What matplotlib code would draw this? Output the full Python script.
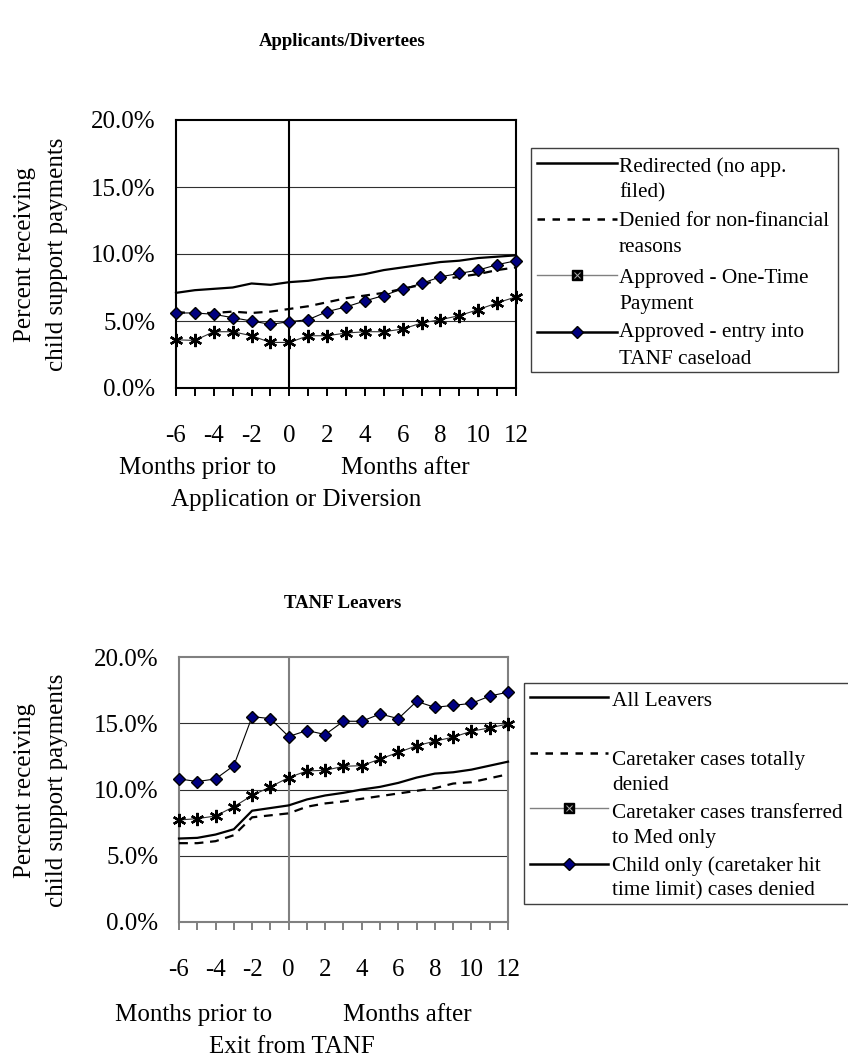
import matplotlib
matplotlib.use("Agg")
import matplotlib.pyplot as plt
from matplotlib.patches import Rectangle
from matplotlib.lines import Line2D

plt.rcParams['font.family'] = ['Liberation Serif', 'DejaVu Serif']

# months relative to application / exit
months = list(range(-6, 13))
month_labels = [str(m) if m % 2 == 0 else '' for m in months]
yticks = [0, 5, 10, 15, 20]

# Applicants/Divertees (percent)
redirected = [7.1, 7.3, 7.4, 7.5, 7.8, 7.7, 7.9, 8.0, 8.2, 8.3, 8.5, 8.8, 9.0, 9.2, 9.4, 9.5, 9.7, 9.8, 9.9]
denied_nonfin = [5.65, 5.6, 5.6, 5.7, 5.6, 5.7, 5.9, 6.1, 6.4, 6.7, 6.9, 7.1, 7.4, 7.7, 8.1, 8.3, 8.5, 8.8, 9.0]
approved_onetime = [3.6, 3.55, 4.2, 4.2, 3.9, 3.4, 3.4, 3.9, 3.9, 4.1, 4.2, 4.2, 4.4, 4.85, 5.1, 5.4, 5.85, 6.35, 6.8]
approved_tanf = [5.6, 5.6, 5.5, 5.25, 5.0, 4.75, 4.95, 5.1, 5.7, 6.05, 6.5, 6.9, 7.4, 7.8, 8.3, 8.55, 8.8, 9.2, 9.5]

# TANF Leavers (percent)
all_leavers = [6.3, 6.35, 6.6, 7.0, 8.4, 8.6, 8.8, 9.25, 9.55, 9.75, 10.0, 10.2, 10.5, 10.9, 11.2, 11.3, 11.5, 11.8, 12.1]
totally_denied = [5.95, 5.95, 6.1, 6.55, 7.9, 8.05, 8.2, 8.7, 8.95, 9.1, 9.3, 9.5, 9.7, 9.9, 10.1, 10.45, 10.55, 10.85, 11.15]
med_only = [7.7, 7.8, 8.0, 8.7, 9.55, 10.2, 10.9, 11.4, 11.45, 11.75, 11.8, 12.3, 12.8, 13.3, 13.65, 13.95, 14.4, 14.65, 14.95]
child_only = [10.8, 10.6, 10.8, 11.8, 15.5, 15.35, 14.0, 14.45, 14.15, 15.15, 15.15, 15.7, 15.35, 16.65, 16.2, 16.35, 16.5, 17.05, 17.35]

W, H = 848, 1063
NAVY = '#000080'
STAR = (6, 2, 0)
AX_FS = 18
LEG_FS = 15.3


def box(left, top, right, bottom):
    return [left / W, 1 - bottom / H, (right - left) / W, (bottom - top) / H]


def setup_axes(ax, frame_color, grid_color):
    ax.set_xlim(-6, 12)
    ax.set_ylim(0, 20)
    ax.set_xticks(months)
    ax.set_xticklabels(month_labels, fontsize=AX_FS)
    ax.set_yticks(yticks)
    ax.set_yticklabels(['%.1f%%' % v for v in yticks], fontsize=AX_FS)
    ax.tick_params(axis='x', direction='out', length=6, width=1.4, color=frame_color, pad=21)
    ax.tick_params(axis='y', length=0, pad=15)
    for s in ax.spines.values():
        s.set_color(frame_color)
        s.set_linewidth(1.5)
    for v in [5, 10, 15]:
        ax.axhline(v, color=grid_color, lw=0.8, zorder=1)
    ax.axvline(0, color=frame_color, lw=1.5, zorder=1)


fig = plt.figure(figsize=(W / 100, H / 100), dpi=100)

# ---- top chart
ax1 = fig.add_axes(box(176, 120, 516, 388))
setup_axes(ax1, 'black', '#303030')
ax1.plot(months, redirected, color='black', lw=1.6, zorder=3, clip_on=False)
ax1.plot(months, denied_nonfin, color='black', lw=1.6, ls=(0, (4, 3)), zorder=3, clip_on=False)
ax1.plot(months, approved_onetime, color='#303030', lw=0.8, marker=STAR, ms=9.5, mew=1.7,
         mec='black', zorder=4, clip_on=False)
ax1.plot(months, approved_tanf, color='black', lw=0.8, marker='D', ms=6.5, mfc=NAVY,
         mec='black', mew=1.0, zorder=5, clip_on=False)

# ---- bottom chart
ax2 = fig.add_axes(box(179, 657, 508, 922))
setup_axes(ax2, '#808080', '#303030')
ax2.plot(months, all_leavers, color='black', lw=1.6, zorder=3, clip_on=False)
ax2.plot(months, totally_denied, color='black', lw=1.6, ls=(0, (4, 3)), zorder=3, clip_on=False)
ax2.plot(months, med_only, color='#303030', lw=0.8, marker=STAR, ms=9.5, mew=1.7,
         mec='black', zorder=4, clip_on=False)
ax2.plot(months, child_only, color='black', lw=0.8, marker='D', ms=6.5, mfc=NAVY,
         mec='black', mew=1.0, zorder=5, clip_on=False)

# ---- overlay in pixel coordinates for titles, labels and legends
ov = fig.add_axes([0, 0, 1, 1], facecolor='none')
ov.set_xlim(0, W)
ov.set_ylim(H, 0)
ov.axis('off')

ov.text(342, 42, 'Applicants/Divertees', ha='center', va='center', fontsize=13.5, fontweight='bold')
ov.text(343, 604, 'TANF Leavers', ha='center', va='center', fontsize=13.5, fontweight='bold')

for yc in [254, 790]:
    ov.text(25, yc, 'Percent receiving', rotation=90, ha='center', va='center', fontsize=AX_FS)
    ov.text(57, yc, 'child support payments', rotation=90, ha='center', va='center', fontsize=AX_FS)

ov.text(198, 468, 'Months prior to', ha='center', va='center', fontsize=AX_FS)
ov.text(405, 468, 'Months after', ha='center', va='center', fontsize=AX_FS)
ov.text(296, 500, 'Application or Diversion', ha='center', va='center', fontsize=AX_FS)

ov.text(194, 1015, 'Months prior to', ha='center', va='center', fontsize=AX_FS)
ov.text(407, 1015, 'Months after', ha='center', va='center', fontsize=AX_FS)
ov.text(292, 1047, 'Exit from TANF', ha='center', va='center', fontsize=AX_FS)


def legend(x0, x1, top, bottom, hx0, hx1, tx, entries):
    ov.add_patch(Rectangle((x0, top), x1 - x0, bottom - top, fill=False, ec='#404040', lw=1.0,
                           clip_on=False))
    for kind, hy, lines in entries:
        xs = [hx0, hx1]
        mid = (hx0 + hx1) / 2
        if kind == 'solid':
            ov.add_line(Line2D(xs, [hy, hy], color='black', lw=1.8))
        elif kind == 'dashed':
            ov.add_line(Line2D(xs, [hy, hy], color='black', lw=1.8, ls=(0, (3, 3))))
        elif kind == 'square':
            ov.add_line(Line2D(xs, [hy, hy], color='#808080', lw=1.0))
            ov.add_line(Line2D([mid], [hy], marker='s', ms=7, mfc='black', mec='black'))
            ov.add_line(Line2D([mid], [hy], marker='x', ms=4, mec='#b0b0b0', mew=0.7))
        else:
            ov.add_line(Line2D(xs, [hy, hy], color='black', lw=1.8))
            ov.add_line(Line2D([mid], [hy], marker='D', ms=6.5, mfc=NAVY, mec='black', mew=1.0))
        for text, ty in lines:
            ov.text(tx, ty, text, ha='left', va='center', fontsize=LEG_FS)


legend(531, 838, 148, 372, 537, 617, 619, [
    ('solid', 163, [('Redirected (no app.', 167), ('filed)', 193)]),
    ('dashed', 219, [('Denied for non-financial', 222), ('reasons', 248)]),
    ('square', 275, [('Approved - One-Time', 278), ('Payment', 304)]),
    ('diamond', 332, [('Approved - entry into', 333), ('TANF caseload', 359)]),
])

legend(524, 870, 683, 904, 530, 608, 612, [
    ('solid', 697, [('All Leavers', 702)]),
    ('dashed', 753, [('Caretaker cases totally', 760), ('denied', 785)]),
    ('square', 808, [('Caretaker cases transferred', 813), ('to Med only', 839)]),
    ('diamond', 864, [('Child only (caretaker hit', 866), ('time limit) cases denied', 891)]),
])

fig.savefig('out.png', dpi=100)
